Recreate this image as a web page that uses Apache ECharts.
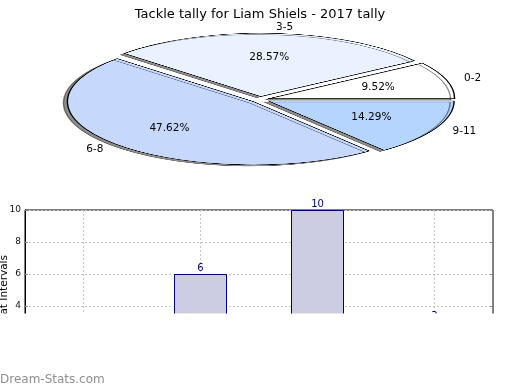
<!DOCTYPE html>
<html>
<head>
<meta charset="utf-8">
<script src="https://cdn.jsdelivr.net/npm/echarts@6/dist/echarts.min.js"></script>
<style>
html, body { margin: 0; padding: 0; background: #ffffff; }
#wrap { position: relative; width: 520px; height: 390px; overflow: hidden; background: #ffffff; }
#pie { position: absolute; left: 0; top: -200px; width: 520px; height: 600px; transform-origin: 260px 299.5px; transform: scaleY(0.34); }
#main { position: absolute; left: 0; top: 0; width: 520px; height: 390px; }
</style>
</head>
<body>
<div id="wrap"><div id="pie"></div><div id="main"></div></div>
<script>
// ---- data ----
const chartTitle = 'Tackle tally for Liam Shiels - 2017 tally';
const categories = ['0-2', '3-5', '6-8', '9-11'];
const tackleCounts = [2, 6, 10, 3];
const yAxisName = 'Tackles at Intervals';
const watermark = 'Dream-Stats.com';

// ---- styles / geometry ----
const FONT = 'DejaVu Sans';
const PIE_CX = 260, PIE_CY = 99.5, PIE_R = 186, SQUASH = 0.34, EXPLODE = 9;
const PIE_DIV_SHIFT = 200;
const sliceColors = ['#ffffff', '#eaf2ff', '#c6d9fd', '#b5d5fe'];

// ---- pie slices (squashed vertically like the original) ----
const pieChart = echarts.init(document.getElementById('pie'));
pieChart.setOption({
  animation: false,
  backgroundColor: 'transparent',
  series: [{
    type: 'pie',
    center: [PIE_CX, PIE_CY + PIE_DIV_SHIFT],
    radius: [0, PIE_R],
    startAngle: 0,
    clockwise: false,
    selectedMode: 'multiple',
    selectedOffset: EXPLODE,
    avoidLabelOverlap: false,
    label: { show: false },
    labelLine: { show: false },
    emphasis: { disabled: true },
    itemStyle: {
      borderColor: '#000000', borderWidth: 1.4,
      shadowColor: 'rgba(0,0,0,0.45)', shadowOffsetX: -4, shadowOffsetY: 4, shadowBlur: 0
    },
    data: categories.map((c, i) => ({ name: c, value: tackleCounts[i], selected: true, itemStyle: { color: sliceColors[i] } }))
  }]
});

// ---- labels, title and bar chart ----
const squashLabel = function (params) {
  const r = params.labelRect;
  return { y: PIE_CY + (r.y + r.height / 2 - PIE_CY) * SQUASH };
};
const labelPieBase = {
  type: 'pie',
  left: 0, top: -300, width: 520, height: 800,
  center: [PIE_CX, PIE_CY + 300],
  startAngle: 0,
  clockwise: false,
  silent: true,
  avoidLabelOverlap: false,
  emphasis: { disabled: true },
  itemStyle: { color: 'rgba(0,0,0,0)', borderWidth: 0 },
  labelLayout: squashLabel
};

const main = echarts.init(document.getElementById('main'));
main.setOption({
  animation: false,
  backgroundColor: 'transparent',
  title: {
    text: chartTitle, left: 'center', top: 3,
    textStyle: { fontFamily: FONT, fontSize: 13, fontWeight: 'normal', color: '#000000' }
  },
  grid: { left: 25, right: 27, top: 210, height: 160, show: true, borderColor: '#000000', borderWidth: 1, outerBoundsMode: 'none', containLabel: false },
  xAxis: {
    type: 'category', data: categories,
    axisLine: { show: true, lineStyle: { color: '#000000' } },
    axisTick: { show: false, alignWithLabel: true },
    axisLabel: { show: false },
    splitLine: { show: true, alignWithLabel: true, lineStyle: { color: '#c4c4c4', type: [2, 2], width: 1 } }
  },
  yAxis: [{
    type: 'value', min: 0, max: 10, interval: 2,
    axisLine: { show: true, lineStyle: { color: '#000000' } },
    axisTick: { show: true, inside: true, length: 3, lineStyle: { color: '#888888' } },
    axisLabel: { fontFamily: FONT, fontSize: 9, color: '#111111', margin: 4 },
    splitLine: { show: true, lineStyle: { color: '#c4c4c4', type: [2, 2], width: 1 } }
  }, {
    type: 'value', min: 0, max: 10, interval: 2, position: 'right',
    axisLine: { show: false },
    axisTick: { show: true, inside: true, length: 3, lineStyle: { color: '#888888' } },
    axisLabel: { show: false },
    splitLine: { show: false }
  }],
  series: [
    Object.assign({}, labelPieBase, {
      radius: [0, PIE_R],
      label: { show: true, position: 'outside', formatter: '{b}', fontFamily: FONT, fontSize: 10.5, color: '#000000', distanceToLabelLine: 0 },
      labelLine: { show: false, length: PIE_R * 0.1 + EXPLODE, length2: 0 },
      data: categories.map((c, i) => ({ name: c, value: tackleCounts[i] }))
    }),
    Object.assign({}, labelPieBase, {
      radius: [0, (PIE_R * 0.6 + EXPLODE) * 2],
      label: { show: true, position: 'inside', formatter: '{d}%', fontFamily: FONT, fontSize: 10.5, color: '#000000' },
      labelLine: { show: false },
      data: categories.map((c, i) => ({ name: c, value: tackleCounts[i] }))
    }),
    {
      type: 'bar',
      data: tackleCounts,
      barWidth: 53,
      silent: true,
      itemStyle: { color: '#ccccE3', borderColor: '#000080', borderWidth: 1 },
      label: { show: true, position: 'top', distance: 1, fontFamily: FONT, fontSize: 10, color: '#000080' }
    }
  ],
  graphic: [
    { type: 'rect', z: 100, shape: { x: 0, y: 313.5, width: 520, height: 80 }, style: { fill: '#ffffff' } },
    { type: 'text', z: 50, x: 4.5, y: 255, rotation: Math.PI / 2,
      style: { text: yAxisName, align: 'right', verticalAlign: 'middle', font: '10.5px "DejaVu Sans"', fill: '#000000' } },
    { type: 'text', z: 101, x: 0, y: 380,
      style: { text: watermark, align: 'left', verticalAlign: 'middle', font: '12px "DejaVu Sans"', fill: '#8f8f8f' } }
  ]
});
</script>
</body>
</html>
